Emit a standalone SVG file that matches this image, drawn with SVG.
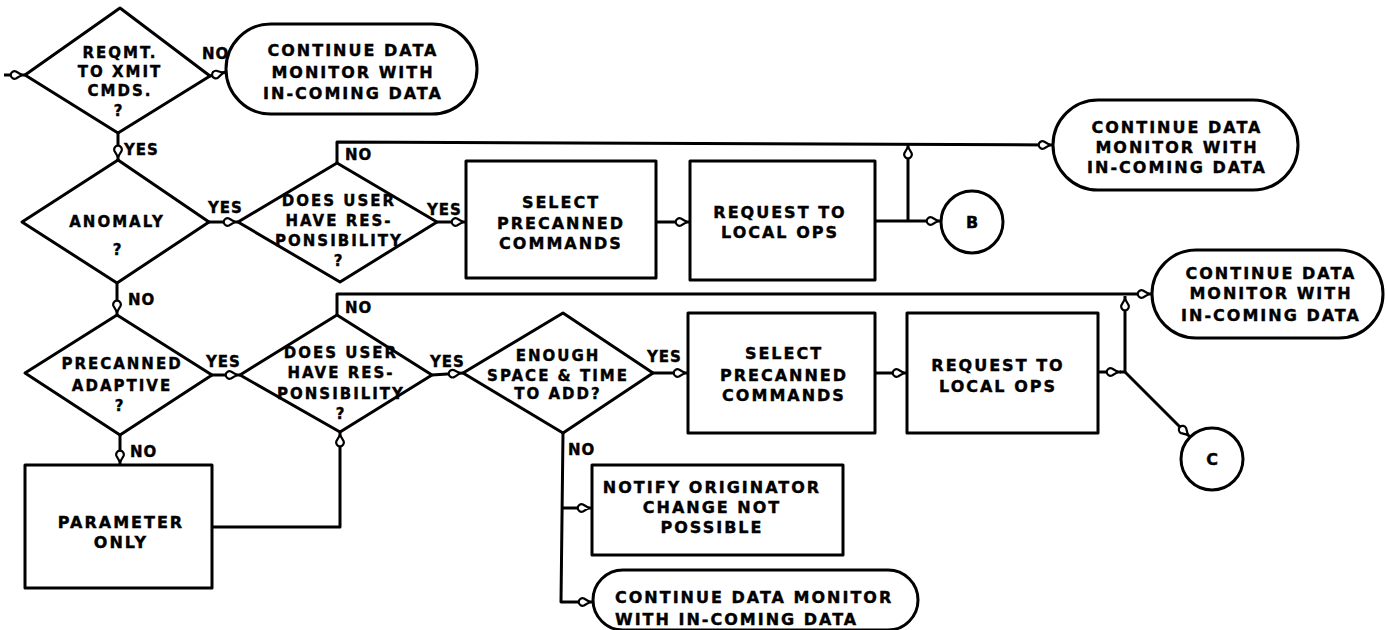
<svg xmlns="http://www.w3.org/2000/svg" width="1386" height="630" viewBox="0 0 1386 630">
<style>
.s{fill:#fff;stroke:#000;stroke-width:3;stroke-linejoin:round}
.c{fill:none;stroke:#000;stroke-width:3;stroke-linejoin:round}
.t{font-family:"DejaVu Sans","Liberation Sans",sans-serif;font-weight:bold;font-size:16px;letter-spacing:2px;text-anchor:middle;fill:#000;stroke:#000;stroke-width:0.4}
.d{font-size:15px}
.l{font-family:"DejaVu Sans","Liberation Sans",sans-serif;font-weight:bold;font-size:15px;letter-spacing:1px;fill:#000;stroke:#000;stroke-width:0.4}
</style>
<defs>
<marker id="a" viewBox="-16 -7 18 14" refX="3" refY="0" markerWidth="18" markerHeight="14" orient="auto" markerUnits="userSpaceOnUse">
<path d="M0,0 L-6,-3.5 A3.8,3.8 0 1 0 -6,3.5 Z" fill="#fff" stroke="#000" stroke-width="2.2"/>
</marker>
</defs>
<rect width="1386" height="630" fill="#fff"/>
<g id="connectors">
<path class="c" d="M4,75 L25,75" marker-end="url(#a)"/>
<path class="c" d="M210,76 L226,72" marker-end="url(#a)"/>
<path class="c" d="M118,133 L118,160" marker-end="url(#a)"/>
<path class="c" d="M209,222 L238,222" marker-end="url(#a)"/>
<path class="c" d="M437,222 L466,222" marker-end="url(#a)"/>
<path class="c" d="M656,222 L690,222" marker-end="url(#a)"/>
<path class="c" d="M875,221 L941,221" marker-end="url(#a)"/>
<path class="c" d="M908,221 L908,144" marker-end="url(#a)"/>
<path class="c" d="M337,163 L337,142 L1053,145" marker-end="url(#a)"/>
<path class="c" d="M117,283 L117,315" marker-end="url(#a)"/>
<path class="c" d="M212,375 L240,375" marker-end="url(#a)"/>
<path class="c" d="M432,375 L463,373" marker-end="url(#a)"/>
<path class="c" d="M337,315 L337,294 L1152,294" marker-end="url(#a)"/>
<path class="c" d="M653,373 L688,373" marker-end="url(#a)"/>
<path class="c" d="M875,373 L907,373" marker-end="url(#a)"/>
<path class="c" d="M1098,372 L1121,372" marker-end="url(#a)"/>
<path class="c" d="M1120,372 L1125,372"/>
<path class="c" d="M1125,372 L1125,296" marker-end="url(#a)"/>
<path class="c" d="M1125,372 L1190,437" marker-end="url(#a)"/>
<path class="c" d="M563,433 L561,602 L593,602" marker-end="url(#a)"/>
<path class="c" d="M561,508 L592,508" marker-end="url(#a)"/>
<path class="c" d="M120,435 L120,465" marker-end="url(#a)"/>
<path class="c" d="M212,527 L340,527 L340,432" marker-end="url(#a)"/>
<text class="l" x="202" y="59">NO</text>
<text class="l" x="124" y="155">YES</text>
<text class="l" x="208" y="213">YES</text>
<text class="l" x="345" y="160">NO</text>
<text class="l" x="427" y="215">YES</text>
<text class="l" x="128" y="305">NO</text>
<text class="l" x="206" y="367">YES</text>
<text class="l" x="345" y="313">NO</text>
<text class="l" x="430" y="367">YES</text>
<text class="l" x="647" y="362">YES</text>
<text class="l" x="568" y="455">NO</text>
<text class="l" x="130" y="457">NO</text>
</g>
<g id="d1">
<polygon class="s" points="120,8 210,76 118,133 25,75"/>
<text class="t d" x="120" y="58">REQMT.</text>
<text class="t d" x="120" y="77">TO XMIT</text>
<text class="t d" x="120" y="96">CMDS.</text>
<text class="t d" x="119" y="116">?</text>
</g>
<g id="t1">
<rect class="s" x="226" y="24" width="251" height="90" rx="45"/>
<text class="t" x="353" y="56">CONTINUE DATA</text>
<text class="t" x="353" y="78">MONITOR WITH</text>
<text class="t" x="353" y="99">IN-COMING DATA</text>
</g>
<g id="d2">
<polygon class="s" points="118,160 209,222 117,283 22,222"/>
<text class="t d" x="117" y="227">ANOMALY</text>
<text class="t d" x="118" y="255">?</text>
</g>
<g id="d3">
<polygon class="s" points="337,163 437,222 340,282 238,222"/>
<text class="t d" x="339" y="206">DOES USER</text>
<text class="t d" x="339" y="226">HAVE RES-</text>
<text class="t d" x="339" y="246">PONSIBILITY</text>
<text class="t d" x="339" y="266">?</text>
</g>
<g id="b1">
<rect class="s" x="466" y="161" width="190" height="117"/>
<text class="t" x="561" y="208">SELECT</text>
<text class="t" x="561" y="229">PRECANNED</text>
<text class="t" x="561" y="249">COMMANDS</text>
</g>
<g id="b2">
<rect class="s" x="690" y="161" width="185" height="119"/>
<text class="t" x="780" y="218">REQUEST TO</text>
<text class="t" x="780" y="238">LOCAL OPS</text>
</g>
<g id="cB">
<circle class="s" cx="972" cy="222" r="31"/>
<text class="t" x="973" y="228">B</text>
</g>
<g id="t2">
<rect class="s" x="1053" y="100" width="245" height="90" rx="45"/>
<text class="t" x="1177" y="133">CONTINUE DATA</text>
<text class="t" x="1177" y="153">MONITOR WITH</text>
<text class="t" x="1177" y="173">IN-COMING DATA</text>
</g>
<g id="d4">
<polygon class="s" points="117,315 212,375 120,435 25,373"/>
<text class="t d" x="122" y="369">PRECANNED</text>
<text class="t d" x="122" y="391">ADAPTIVE</text>
<text class="t d" x="120" y="411">?</text>
</g>
<g id="d5">
<polygon class="s" points="337,315 432,375 340,432 240,375"/>
<text class="t d" x="341" y="358">DOES USER</text>
<text class="t d" x="341" y="378">HAVE RES-</text>
<text class="t d" x="341" y="399">PONSIBILITY</text>
<text class="t d" x="341" y="419">?</text>
</g>
<g id="d6">
<polygon class="s" points="563,313 653,373 563,433 463,373"/>
<text class="t d" x="558" y="361">ENOUGH</text>
<text class="t d" x="558" y="381">SPACE &amp; TIME</text>
<text class="t d" x="558" y="399">TO ADD?</text>
</g>
<g id="b3">
<rect class="s" x="688" y="313" width="187" height="120"/>
<text class="t" x="784" y="359">SELECT</text>
<text class="t" x="784" y="381">PRECANNED</text>
<text class="t" x="784" y="401">COMMANDS</text>
</g>
<g id="b4">
<rect class="s" x="907" y="313" width="191" height="120"/>
<text class="t" x="998" y="371">REQUEST TO</text>
<text class="t" x="998" y="392">LOCAL OPS</text>
</g>
<g id="t3">
<rect class="s" x="1152" y="250" width="231" height="88" rx="44"/>
<text class="t" x="1271" y="279">CONTINUE DATA</text>
<text class="t" x="1271" y="299">MONITOR WITH</text>
<text class="t" x="1271" y="321">IN-COMING DATA</text>
</g>
<g id="cC">
<circle class="s" cx="1212" cy="459" r="31"/>
<text class="t" x="1213" y="465">C</text>
</g>
<g id="b5">
<rect class="s" x="592" y="465" width="251" height="90"/>
<text class="t" x="712" y="493">NOTIFY ORIGINATOR</text>
<text class="t" x="712" y="513">CHANGE NOT</text>
<text class="t" x="712" y="533">POSSIBLE</text>
</g>
<g id="t4">
<rect class="s" x="593" y="570" width="325" height="60" rx="30"/>
<text class="t" x="615" y="603" style="text-anchor:start">CONTINUE DATA MONITOR</text>
<text class="t" x="615" y="625" style="text-anchor:start">WITH IN-COMING DATA</text>
</g>
<g id="b6">
<rect class="s" x="25" y="465" width="187" height="123"/>
<text class="t" x="121" y="528">PARAMETER</text>
<text class="t" x="121" y="548">ONLY</text>
</g>
</svg>
